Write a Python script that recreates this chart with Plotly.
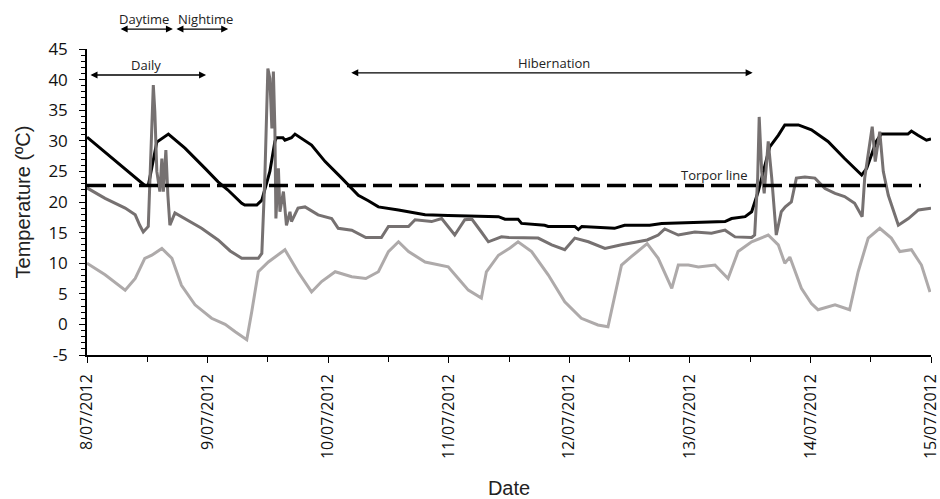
import pandas as pd
import plotly.graph_objects as go

START = pd.Timestamp("2012-07-08")
END = pd.Timestamp("2012-07-15")

# ---- data (hours since 8/07/2012 00:00, temperature in ºC) ----
black_hours = [0, 10.9, 11.5, 12.2, 13.9, 16.2, 19.5, 23.5, 26.1, 28.0, 30.8, 31.4, 33.8, 34.8,
               36.4, 37.4, 37.7, 39.0, 39.4, 40.7, 41.4, 44.7, 47.4, 50.7, 54.0, 56.0, 58.0,
               62.0, 67.3, 71.9, 81.9, 83.2, 85.8, 86.5, 91.1, 91.8, 97.1, 97.8, 98.5, 105.0,
               107.0, 112.0, 114.4, 127.0, 128.3, 131.0, 132.3, 133.6, 134.9, 135.9, 137.6,
               138.9, 141.6, 144.2, 147.5, 150.8, 154.2, 155.2, 157.1, 158.1, 163.4, 164.1,
               165.4, 167.1, 168.0]
black_temp = [30.6, 23.0, 22.7, 22.7, 29.8, 31.1, 28.8, 25.5, 23.3, 22.0, 19.8, 19.5, 19.5, 20.3,
              25.0, 29.9, 30.5, 30.5, 30.1, 30.5, 31.1, 29.3, 26.6, 23.9, 21.1, 20.2, 19.2,
              18.7, 17.9, 17.8, 17.6, 17.2, 17.2, 16.5, 16.2, 16.0, 16.0, 15.5, 16.0, 15.7,
              16.2, 16.2, 16.5, 16.8, 17.3, 17.6, 18.4, 21.7, 26.0, 29.0, 30.9,
              32.6, 32.6, 31.8, 29.9, 27.1, 24.4, 25.5, 29.9, 31.1, 31.1, 31.6,
              30.9, 30.1, 30.3]

dark_hours = [0, 3.6, 7.6, 9.6, 10.5, 11.2, 12.2, 12.5, 12.9, 13.2, 13.5, 13.9, 14.5, 14.9,
              15.2, 15.7, 16.1, 16.5, 17.5, 19.5, 22.8, 26.1, 28.5, 30.8, 34.1, 34.8, 35.4,
              36.0, 36.4, 36.8, 37.1, 37.4, 37.6, 38.1, 38.4, 39.1, 39.7, 40.4, 40.7, 42.0,
              43.4, 46.0, 48.7, 50.0, 52.7, 55.5, 58.6, 60.0, 64.0, 65.3, 68.6, 70.6, 73.2,
              75.2, 76.6, 78.5, 79.9, 82.5, 84.0, 89.8, 92.5, 95.1, 97.1, 99.8, 103.1,
              106.4, 109.7, 111.5, 113.7, 115.0, 117.7, 121.0, 124.3, 127.0, 129.0, 132.3,
              132.9, 133.5, 133.8, 134.3, 134.8, 135.6, 136.3, 137.2, 138.2, 139.0, 140.2,
              141.2, 142.9, 144.9, 146.9, 148.9, 150.8, 152.8, 154.3, 154.8, 156.3, 156.9,
              157.8, 158.5, 159.5, 161.5, 163.5, 165.5, 168.0]
dark_temp = [22.3, 20.6, 19.0, 17.9, 16.2, 15.1, 16.0, 23.9, 33.0, 39.1, 34.8, 25.0, 21.7, 27.1,
             21.7, 28.5, 21.1, 16.2, 18.2, 17.3, 15.7, 13.8, 12.0, 10.8, 10.8, 11.6, 23.9,
             41.8, 40.2, 32.0, 41.3, 32.0, 17.3, 25.5, 18.4, 21.7, 16.2, 18.4, 16.8, 19.0,
             19.2, 17.9, 17.3, 15.7, 15.4, 14.2, 14.2, 16.0, 16.0, 17.1, 16.8, 17.3, 14.6,
             17.1, 17.2, 15.1, 13.5, 14.3, 14.2, 14.1, 13.0, 12.2, 14.1, 13.5, 12.4,
             13.0, 13.5, 13.8, 14.6, 15.6, 14.6, 15.1, 14.9, 15.4, 14.3, 14.2,
             14.6, 23.9, 33.9, 25.0, 21.4, 29.9, 23.9, 14.6, 18.4, 19.2, 20.0,
             23.9, 24.1, 23.9, 22.2, 21.4, 20.9, 19.8, 17.6, 23.9, 32.3, 26.6,
             31.5, 25.0, 21.1, 16.2, 17.3, 18.7, 19.0]

light_hours = [0, 3.6, 7.6, 9.6, 11.5, 12.9, 14.9, 16.9, 18.8, 21.5, 24.8, 27.5, 29.5, 31.8,
               32.8, 34.1, 36.1, 39.4, 42.0, 44.7, 46.7, 49.4, 52.7, 55.5, 58.0, 60.0, 62.0,
               64.0, 67.3, 71.9, 73.9, 75.9, 78.5, 79.5, 81.9, 84.2, 85.8, 88.5, 91.8, 95.1,
               98.4, 101.7, 103.7, 106.4, 108.4, 111.5, 113.7, 116.4, 117.7, 119.7, 121.7,
               125.0, 127.6, 129.6, 132.3, 135.6, 137.6, 138.9, 139.9, 142.2, 144.2, 145.5,
               148.9, 151.8, 153.5, 155.5, 157.8, 160.1, 161.8, 164.1, 166.1, 167.8]
light_temp = [10.0, 8.1, 5.6, 7.5, 10.8, 11.3, 12.4, 10.8, 6.4, 3.2, 1.0, 0.0, -1.2, -2.5,
              2.1, 8.6, 10.2, 12.2, 8.6, 5.3, 7.0, 8.6, 7.8, 7.5, 8.6, 11.9, 13.5,
              11.9, 10.2, 9.4, 7.5, 5.6, 4.3, 8.6, 11.3, 12.5, 13.5, 11.9, 8.1, 3.7,
              1.0, -0.1, -0.4, 9.7, 11.1, 13.2, 10.8, 5.9, 9.7, 9.7, 9.4,
              9.7, 7.5, 11.9, 13.5, 14.6, 13.0, 10.0, 11.0, 5.9, 3.4, 2.4,
              3.2, 2.4, 8.6, 14.1, 15.7, 14.1, 11.9, 12.2, 9.7, 5.3]

TORPOR = 22.7
y_ticks = [-5, 0, 5, 10, 15, 20, 25, 30, 35, 40, 45]
y_tick_text = [str(v) for v in y_ticks]
x_ticks = pd.date_range(START, END, freq="D")


def to_time(hours):
    return [START + pd.Timedelta(hours=h) for h in hours]


fig = go.Figure()
fig.add_trace(go.Scatter(x=to_time(black_hours), y=black_temp, mode="lines",
                         line=dict(color="#000000", width=3), name="black"))
fig.add_trace(go.Scatter(x=to_time(light_hours), y=light_temp, mode="lines",
                         line=dict(color="#AEAAAA", width=3), name="light"))
fig.add_trace(go.Scatter(x=to_time(dark_hours), y=dark_temp, mode="lines",
                         line=dict(color="#767171", width=3), name="dark"))
fig.add_trace(go.Scatter(x=[START, END - pd.Timedelta(hours=2)], y=[TORPOR, TORPOR], mode="lines",
                         line=dict(color="#000000", width=3.5, dash="19px,7px"), name="Torpor line"))

TXT = dict(family="Open Sans", size=13, color="#222222")


def harrow(h0, h1, y, yref):
    return dict(x=START + pd.Timedelta(hours=h1), y=y, xref="x", yref=yref,
                ax=START + pd.Timedelta(hours=h0), ay=0, axref="x", ayref="pixel",
                text="", showarrow=True, arrowhead=2, startarrowhead=2,
                arrowside="end+start", arrowsize=1, arrowwidth=1.4,
                arrowcolor="#000000", standoff=0, startstandoff=0)


def label(text, h, y, yref):
    return dict(x=START + pd.Timedelta(hours=h), y=y, xref="x", yref=yref, text=text,
                showarrow=False, font=TXT, xanchor="center", yanchor="middle")


annotations = [
    harrow(6.4, 17.1, 1.065, "paper"), label("Daytime", 11.3, 1.098, "paper"),
    harrow(17.5, 28.1, 1.065, "paper"), label("Nightime", 23.5, 1.098, "paper"),
    harrow(0.4, 23.7, 40.75, "y"), label("Daily", 11.7, 42.4, "y"),
    harrow(52.3, 132.5, 41.1, "y"), label("Hibernation", 93.0, 42.7, "y"),
    label("Torpor line", 125.0, 24.4, "y"),
]

fig.update_layout(
    width=940, height=499,
    margin=dict(l=87, r=9, t=49, b=144, autoexpand=False),
    plot_bgcolor="white", paper_bgcolor="white",
    showlegend=False,
    annotations=annotations,
    font=dict(family="Open Sans", color="#111111"),
)
fig.update_xaxes(
    range=[START, END], tickvals=x_ticks, tickformat="%-d/%m/%Y", tickangle=-90,
    ticklabeloverflow="allow", ticklabelstandoff=5, automargin=False,
    showgrid=False, zeroline=False, showline=True, linecolor="#000000", linewidth=1.5,
    ticks="outside", ticklen=6, tickwidth=1.3, tickcolor="#000000",
    minor=dict(dtick=12 * 3600 * 1000, ticks="outside", ticklen=5, tickwidth=1.3, tickcolor="#000000"),
    tickfont=dict(family="Open Sans", size=16, color="#111111"),
    title=dict(text="Date", font=dict(family="Liberation Sans", size=20, color="#222222"), standoff=28),
)
fig.update_yaxes(
    range=[-5, 45], tickvals=y_ticks, ticktext=y_tick_text, ticklabelstandoff=8, automargin=False,
    showgrid=False, zeroline=False, showline=True, linecolor="#000000", linewidth=1.5,
    ticks="outside", ticklen=6, tickwidth=1.3, tickcolor="#000000",
    minor=dict(dtick=1, ticks="outside", ticklen=4, tickwidth=1, tickcolor="#000000"),
    tickfont=dict(family="Open Sans", size=17, color="#111111"),
    title=dict(text="Temperature (ºC)", font=dict(family="Liberation Sans", size=20, color="#222222"), standoff=12),
)

fig.write_html("out.html")
